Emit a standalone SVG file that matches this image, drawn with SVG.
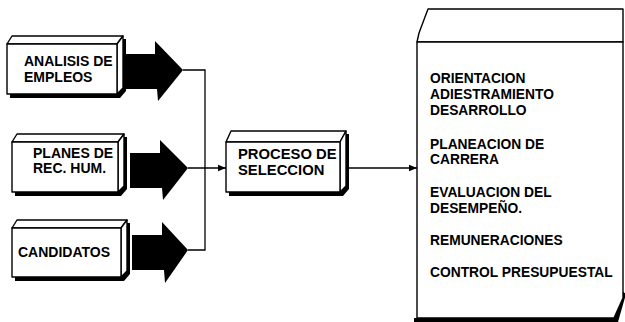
<svg xmlns="http://www.w3.org/2000/svg" width="625" height="322" viewBox="0 0 625 322">
  <style>
    .edge { fill: #fff; stroke: #000; stroke-width: 1.4; stroke-linejoin: round; }
    .shadow { fill: #000; }
    .label { font-family: "Liberation Sans", Arial, sans-serif; font-weight: bold; fill: #000; }
    .wire { fill: none; stroke: #000; stroke-width: 1.3; }
    .block { fill: #000; }
  </style>
  <defs>
    <marker id="tip" viewBox="0 0 10 10" refX="10" refY="5" markerWidth="10" markerHeight="8" markerUnits="userSpaceOnUse" orient="auto">
      <path d="M0,1 L10,5 L0,9 Z" fill="#000"/>
    </marker>
  </defs>
  <rect width="625" height="322" fill="#fff"/>

  <!-- source blocks -->
  <g id="analisis">
    <path class="shadow" d="M10,94 H117 L123,88 V39 H126 V91 L120,98 H10 Z"/>
    <path class="edge" d="M7,44 L12,36 H123 L117,44 Z"/>
    <path class="edge" d="M117,44 L123,36 V88 L117,94 Z"/>
    <rect class="edge" x="7" y="44" width="110" height="50"/>
    <text class="label" font-size="14" x="24" y="66">ANALISIS DE</text>
    <text class="label" font-size="14" x="24" y="82">EMPLEOS</text>
  </g>

  <g id="planes">
    <path class="shadow" d="M15,192 H118 L124,186 V137 H127 V189 L121,196 H15 Z"/>
    <path class="edge" d="M12,142 L17,134 H124 L118,142 Z"/>
    <path class="edge" d="M118,142 L124,134 V186 L118,192 Z"/>
    <rect class="edge" x="12" y="142" width="106" height="50"/>
    <text class="label" font-size="14" x="33" y="158">PLANES DE</text>
    <text class="label" font-size="14" x="33" y="173">REC. HUM.</text>
  </g>

  <g id="candidatos">
    <path class="shadow" d="M15,277 H121 L127,271 V223 H130 V274 L124,281 H15 Z"/>
    <path class="edge" d="M12,228 L17,220 H127 L121,228 Z"/>
    <path class="edge" d="M121,228 L127,220 V271 L121,277 Z"/>
    <rect class="edge" x="12" y="228" width="109" height="49"/>
    <text class="label" font-size="14" x="18" y="257">CANDIDATOS</text>
  </g>

  <!-- block arrows from the source blocks -->
  <g id="block-arrows">
    <path class="block" d="M125,54 H155 V41 L183,70 L158,101 L157,89 H125 Z"/>
    <path class="block" d="M130,153 H160 V140 L188,168 L163,200 L162,188 H130 Z"/>
    <path class="block" d="M132,235 H162 V222 L188,250 L165,283 L164,270 H132 Z"/>
  </g>

  <g id="proceso">
    <path class="shadow" d="M229,192 H340 L346,186 V134 H349 V189 L343,196 H229 Z"/>
    <path class="edge" d="M226,142 L231,131 H346 L340,142 Z"/>
    <path class="edge" d="M340,142 L346,131 V186 L340,192 Z"/>
    <rect class="edge" x="226" y="142" width="114" height="50"/>
    <text class="label" font-size="14.8" x="238" y="159">PROCESO DE</text>
    <text class="label" font-size="14.8" x="238" y="175">SELECCION</text>
  </g>

  <g id="funciones">
    <path class="shadow" d="M621,290 L626,294 L618,322 H414 V318 H613 Z"/>
    <path class="edge" d="M417,42 L419,33 L428,9 H623 V42 Z"/>
    <path class="edge" d="M417,42 H623 V298 L614,318 H417 Z"/>
    <g class="label" font-size="13.8">
      <text x="430" y="83">ORIENTACION</text>
      <text x="430" y="99">ADIESTRAMIENTO</text>
      <text x="430" y="115">DESARROLLO</text>
      <text x="430" y="149">PLANEACION DE</text>
      <text x="430" y="164">CARRERA</text>
      <text x="430" y="197">EVALUACION DEL</text>
      <text x="430" y="213">DESEMPEÑO.</text>
      <text x="430" y="245">REMUNERACIONES</text>
      <text x="430" y="277">CONTROL PRESUPUESTAL</text>
    </g>
  </g>

  <!-- connectors -->
  <g id="connectors">
    <path class="wire" d="M183,70 H205 V250 H188"/>
    <path class="wire" d="M188,168 H226" marker-end="url(#tip)"/>
    <path class="wire" d="M348,168 H417" marker-end="url(#tip)"/>
  </g>
</svg>
